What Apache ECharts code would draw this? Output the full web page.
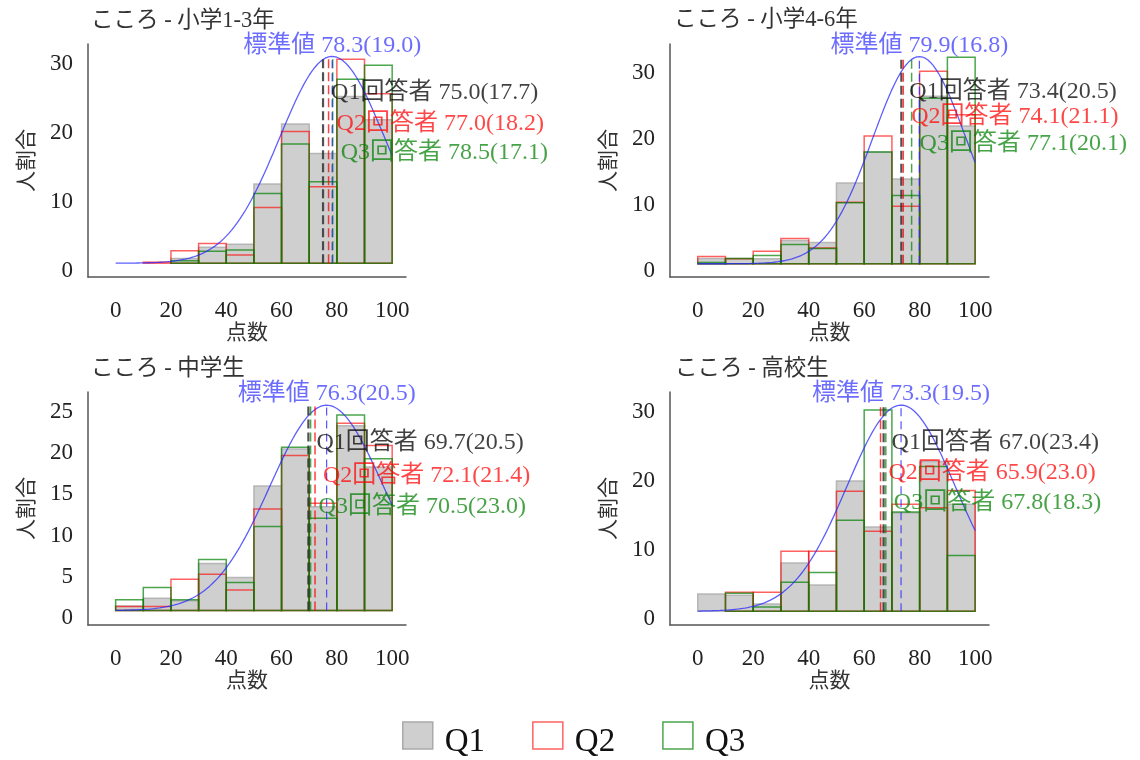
<!DOCTYPE html>
<html><head><meta charset="utf-8">
<script src="https://cdn.jsdelivr.net/npm/echarts@6/dist/echarts.min.js"></script>
<style>html,body{margin:0;padding:0;background:#fff}#c{width:1140px;height:760px}</style>
</head><body><div id="c"></div>
<script>
// ---------------- DATA ----------------
const panelTitles = ['こころ - 小学1-3年', 'こころ - 小学4-6年', 'こころ - 中学生', 'こころ - 高校生'];
const binStarts = [0, 10, 20, 30, 40, 50, 60, 70, 80, 90];
const binWidth = 10;
const xTickValues = [0, 20, 40, 60, 80, 100];
const yTickValues = [[0, 10, 20, 30], [0, 10, 20, 30], [0, 5, 10, 15, 20, 25], [0, 10, 20, 30]];

const q1Sho13 = [0, 0, 0.7, 2.3, 2.75, 11.5, 20.2, 15.9, 24.2, 20.8];
const q2Sho13 = [0, 0.15, 1.8, 2.85, 1.2, 8.1, 19.1, 11.1, 29.6, 24.6];
const q3Sho13 = [0, 0, 0.35, 1.75, 1.9, 10.1, 17.3, 11.8, 26.7, 28.7];

const q1Sho46 = [0.8, 0.8, 0.75, 3.5, 3.2, 12.2, 16.9, 12.8, 25.3, 20.8];
const q2Sho46 = [1.1, 0.75, 1.9, 3.8, 2.4, 9.3, 19.3, 8.7, 29.1, 22.5];
const q3Sho46 = [0.2, 0.8, 1.25, 2.9, 2.3, 9.2, 16.9, 10.3, 25.0, 31.2];

const q1Chu = [0.55, 1.5, 1.2, 5.7, 4.0, 15.1, 19.6, 12.6, 22.4, 17.4];
const q2Chu = [0.5, 0.5, 3.8, 4.4, 2.5, 12.3, 18.8, 13.0, 22.7, 20.0];
const q3Chu = [1.3, 2.8, 1.3, 6.2, 3.4, 10.2, 19.8, 11.2, 23.7, 18.4];

const q1Kou = [2.5, 2.3, 1.05, 7.0, 3.8, 18.9, 12.2, 14.3, 21.7, 15.5];
const q2Kou = [0, 2.75, 2.75, 8.7, 8.7, 17.4, 11.6, 15.5, 15.0, 17.5];
const q3Kou = [0, 2.6, 0.6, 4.2, 5.6, 13.2, 29.2, 14.4, 21.0, 8.1];

const stdMean = [78.3, 79.9, 76.3, 73.3];
const stdSd = [19.0, 16.8, 20.5, 19.5];
const q1Mean = [75.0, 73.4, 69.7, 67.0];
const q1Sd = [17.7, 20.5, 20.5, 23.4];
const q2Mean = [77.0, 74.1, 72.1, 65.9];
const q2Sd = [18.2, 21.1, 21.4, 23.0];
const q3Mean = [78.5, 77.1, 70.5, 67.8];
const q3Sd = [17.1, 20.1, 23.0, 18.3];
const curvePeak = [30.0, 31.3, 24.9, 29.9];

// ---------------- LAYOUT ----------------
const FONT = "'Liberation Serif', 'Noto Sans CJK JP', serif";
const grids = [
  {left: 88, top: 44, width: 318, height: 233},
  {left: 670, top: 44, width: 319, height: 233},
  {left: 88, top: 392, width: 318, height: 233},
  {left: 670, top: 392, width: 319, height: 233}
];
const yMin = [-2, -2, -1.75, -2];
const yMax = [31.8, 33.2, 26.5, 31.8];
const labelY = [[24.7, 20.3, 16.0], [26.0, 22.2, 18.2], [20.3, 16.4, 12.6], [24.5, 20.1, 15.8]];
const titlePos = [{left: 91, top: 10}, {left: 674, top: 9}, {left: 91, top: 358}, {left: 675, top: 358}];

const Q1C = {fill: '#cfcfcf', stroke: 'rgba(170,170,170,0.8)'};
const Q2C = 'rgba(255,0,0,0.62)';
const Q3C = 'rgba(0,128,0,0.7)';

const qData = [[q1Sho13, q2Sho13, q3Sho13], [q1Sho46, q2Sho46, q3Sho46], [q1Chu, q2Chu, q3Chu], [q1Kou, q2Kou, q3Kou]];

function rectRender(fill, stroke, lw) {
  return function (params, api) {
    const s = api.value(0), v = api.value(1);
    const p0 = api.coord([s, 0]);
    const p1 = api.coord([s + binWidth, v]);
    return {
      type: 'rect',
      shape: {x: p0[0], y: p1[1], width: p1[0] - p0[0], height: p0[1] - p1[1]},
      style: {fill: fill, stroke: stroke, lineWidth: lw}
    };
  };
}

const option = {
  backgroundColor: '#fff',
  animation: false,
  textStyle: {fontFamily: FONT},
  title: panelTitles.map((t, i) => ({
    text: t, left: titlePos[i].left, top: titlePos[i].top, padding: 0,
    textStyle: {fontFamily: FONT, fontSize: 22.5, fontWeight: 'normal', color: '#333'}
  })),
  legend: {
    left: 397, top: 707, itemWidth: 30, itemHeight: 27, itemGap: 47,
    icon: 'rect', selectedMode: false,
    formatter: '{a|{name}}',
    textStyle: {fontFamily: FONT, fontSize: 33, color: '#111',
      rich: {a: {fontFamily: FONT, fontSize: 33, color: '#111', padding: [14, 0, 0, 7], lineHeight: 33}}},
    data: [
      {name: 'Q1', itemStyle: {color: Q1C.fill, borderColor: '#aaa', borderWidth: 1.5}},
      {name: 'Q2', itemStyle: {color: '#fff', borderColor: Q2C, borderWidth: 1.5}},
      {name: 'Q3', itemStyle: {color: '#fff', borderColor: Q3C, borderWidth: 1.5}}
    ]
  },
  grid: grids,
  xAxis: grids.map((g, i) => ({
    type: 'value', gridIndex: i, min: -10, max: 105,
    name: '点数', nameLocation: 'middle', nameGap: 44,
    nameTextStyle: {fontFamily: FONT, fontSize: 21, color: '#333'},
    axisLine: {show: true, onZero: false, lineStyle: {color: '#555', width: 1.5}},
    axisTick: {show: false}, splitLine: {show: false},
    axisLabel: {customValues: xTickValues, margin: 22, fontSize: 23, color: '#222', fontFamily: FONT}
  })),
  yAxis: grids.map((g, i) => ({
    type: 'value', gridIndex: i, min: yMin[i], max: yMax[i],
    name: '人割合', nameLocation: 'middle', nameGap: 50,
    nameTextStyle: {fontFamily: FONT, fontSize: 21, color: '#333'},
    axisLine: {show: true, onZero: false, lineStyle: {color: '#555', width: 1.5}},
    axisTick: {show: false}, splitLine: {show: false},
    axisLabel: {customValues: yTickValues[i], margin: 15, fontSize: 23, color: '#222', fontFamily: FONT,
      verticalAlign: 'top', lineHeight: 15}
  })),
  series: []
};

for (let i = 0; i < 4; i++) {
  const styles = [
    [Q1C.fill, Q1C.stroke, 1.5],
    ['rgba(0,0,0,0)', Q2C, 1.5],
    ['rgba(0,0,0,0)', Q3C, 1.5]
  ];
  ['Q1', 'Q2', 'Q3'].forEach((nm, k) => {
    const vals = qData[i][k];
    option.series.push({
      type: 'custom', name: nm, xAxisIndex: i, yAxisIndex: i, silent: true, z: 2 + k,
      renderItem: rectRender(styles[k][0], styles[k][1], styles[k][2]),
      encode: {x: 0, y: 1},
      itemStyle: {color: styles[k][0], borderColor: styles[k][1]},
      data: binStarts.map((b, j) => [b, vals[j]]).filter(d => d[1] > 0)
    });
  });
  // normal curve of the standard value
  const curve = [];
  for (let x = 0; x <= 100; x += 1) {
    const z = (x - stdMean[i]) / stdSd[i];
    curve.push([x, curvePeak[i] * Math.exp(-0.5 * z * z)]);
  }
  option.series.push({
    type: 'line', xAxisIndex: i, yAxisIndex: i, silent: true, z: 6, symbol: 'none',
    lineStyle: {color: 'rgba(40,40,255,0.75)', width: 1.3}, data: curve
  });
  // dashed mean lines
  const dashes = [
    [q1Mean[i], 'rgba(50,50,50,0.85)', 2.2, [9, 4]],
    [q2Mean[i], 'rgba(255,0,0,0.75)', 1.5, [9, 4]],
    [q3Mean[i], 'rgba(0,128,0,0.7)', 1.5, [9, 4]],
    [stdMean[i], 'rgba(40,40,255,0.8)', 1.2, [8, 5]]
  ];
  dashes.forEach(d => {
    option.series.push({
      type: 'line', xAxisIndex: i, yAxisIndex: i, silent: true, z: 7, symbol: 'none',
      lineStyle: {color: d[1], width: d[2], type: d[3]},
      data: [[d[0], 0], [d[0], curvePeak[i]]]
    });
  });
  // annotations
  const fmt = (m, s) => m.toFixed(1) + '(' + s.toFixed(1) + ')';
  const ann = [
    ['Q1回答者 ' + fmt(q1Mean[i], q1Sd[i]), q1Mean[i], labelY[i][0], '#111'],
    ['Q2回答者 ' + fmt(q2Mean[i], q2Sd[i]), q2Mean[i], labelY[i][1], 'rgba(255,0,0,0.9)'],
    ['Q3回答者 ' + fmt(q3Mean[i], q3Sd[i]), q3Mean[i], labelY[i][2], 'rgba(0,128,0,0.9)']
  ];
  option.series.push({
    type: 'scatter', xAxisIndex: i, yAxisIndex: i, silent: true, z: 10, symbolSize: 0,
    data: ann.map(a => ({
      value: [a[1], a[2]],
      label: {show: true, position: 'right', distance: 8, formatter: a[0], color: a[3], fontSize: 24, fontFamily: FONT}
    }))
  });
  option.series.push({
    type: 'scatter', xAxisIndex: i, yAxisIndex: i, silent: true, z: 10, symbolSize: 0,
    data: [{
      value: [stdMean[i], curvePeak[i]],
      label: {show: true, position: 'top', distance: 0, formatter: '標準値 ' + fmt(stdMean[i], stdSd[i]),
        color: 'rgba(40,40,255,0.85)', fontSize: 24, lineHeight: 22, fontFamily: FONT}
    }]
  });
}

const chart = echarts.init(document.getElementById('c'), null, {renderer: 'canvas'});
chart.setOption(option);
</script>
</body></html>
